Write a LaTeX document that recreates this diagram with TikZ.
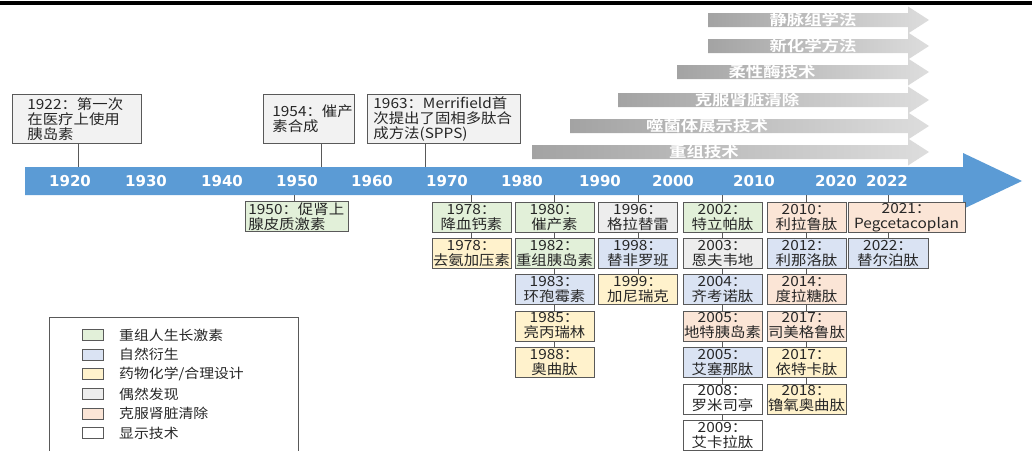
\documentclass[tikz,border=0pt]{standalone}
\usepackage{fontspec}
\newfontfamily\cjk{Noto Sans CJK SC}[FakeStretch=1.1]
\newfontfamily\cjkarrow{Noto Sans CJK SC}[FakeStretch=1.2, BoldFont={Noto Sans CJK SC Bold}]
\newfontfamily\yearf{DejaVu Sans}
\definecolor{bandblue}{HTML}{5B9BD5}
\definecolor{bc}{HTML}{595959}
\definecolor{tc}{HTML}{262626}
\definecolor{cgreen}{HTML}{E2F0D9}
\definecolor{cblue}{HTML}{DAE3F3}
\definecolor{cyellow}{HTML}{FFF2CC}
\definecolor{cgray}{HTML}{EDEDED}
\definecolor{csalmon}{HTML}{FBE5D6}
\definecolor{ctop}{HTML}{F2F2F2}
\definecolor{ga}{HTML}{A3A3A3}
\definecolor{gb}{HTML}{DDDDDD}
\tikzset{
  ev/.style={draw=bc, line width=0.8pt, minimum width=79pt, minimum height=30pt,
    inner sep=0pt, align=center, anchor=north, text=tc,
    font=\cjk\fontsize{14}{15}\selectfont},
  topbox/.style={draw=bc, line width=0.8pt, fill=ctop, anchor=north west,
    inner ysep=0pt, align=left, text=tc, font=\cjk\fontsize{14}{15}\selectfont},
  conn/.style={draw=bc, line width=0.8pt},
  yr/.style={text=white, font=\yearf\bfseries\fontsize{15}{15}\selectfont, inner sep=0pt},
  arrtext/.style={text=white, font=\cjkarrow\bfseries\fontsize{14.5}{15}\selectfont, inner sep=0pt},
  sw/.style={draw=bc, line width=0.8pt, minimum width=21pt, minimum height=11pt, inner sep=0pt},
  legtext/.style={anchor=west, inner sep=0pt, text=tc, font=\cjk\fontsize{13.5}{15}\selectfont},
}
\begin{document}
\begin{tikzpicture}[x=1pt,y=-1pt]
\useasboundingbox (0,0) rectangle (1032,450);
% top rule
\fill[black] (0,1) rectangle (1032,4.5);

% gray technology arrows
\foreach \l/\c/\t/\n [count=\i] in {708/20/813/静脉组学法, 708/46/813/新化学方法, 677/72/772/柔性酶技术, 618/100/747/克服肾脏清除, 570/126/707/噬菌体展示技术, 532/152/704/重组技术}{
  \shade[left color=ga, right color=gb] (\l,\c-7) -- (908,\c-7) -- (908,\c-13.5) -- (929,\c) -- (908,\c+13.5) -- (908,\c+7) -- (\l,\c+7) -- cycle;
  \node[arrtext] (g\i) at (\t,\c) {\n};
}

% main timeline band
\fill[bandblue] (25,167) -- (963,167) -- (963,153) -- (1022,181) -- (963,209) -- (963,195) -- (25,195) -- cycle;
\foreach \x/\y in {70/1920, 146/1930, 222/1940, 297/1950, 372/1960, 447/1970, 522/1980, 600/1990, 673/2000, 754/2010, 836/2020, 887/2022}{
  \node[yr] (y\y) at (\x,181) {\y};
}

% upper event boxes
\node[topbox, minimum width=129pt, minimum height=49pt, inner xsep=15pt, text width=99pt] (t1922) at (12,94) {1922：第一次\\在医疗上使用\\胰岛素};
\node[topbox, minimum width=91pt, minimum height=49pt, inner xsep=9pt, text width=73pt] (t1954) at (263,94) {1954：催产\\素合成};
\node[topbox, minimum width=153pt, minimum height=49pt, inner xsep=6pt, text width=141pt] (t1963) at (367,94) {1963：Merrifield首\\次提出了固相多肽合\\成方法(SPPS)};
\coordinate (u1922) at (78,167);
\coordinate (u1954) at (321,167);
\coordinate (u1963) at (425,167);
\draw[conn] (u1922 |- t1922.south) -- (u1922);
\draw[conn] (u1954 |- t1954.south) -- (u1954);
\draw[conn] (u1963 |- t1963.south) -- (u1963);

% 1950 box
\node[ev, fill=cgreen, minimum width=103pt, anchor=north west, align=left, inner xsep=3pt, text width=97pt] (e1950) at (245,201) {1950：促肾上\\腺皮质激素};
\coordinate (d1950) at (294,195);
\draw[conn] (d1950) -- (d1950 |- e1950.north);

% column A
\coordinate (bA) at (471.5,195);
\node[ev, fill=cgreen] (a1) at (471.5,202) {1978：\\降血钙素};
\node[ev, fill=cyellow] (a2) at (471.5,238) {1978：\\去氨加压素};
\draw[conn] (bA) -- (a1) (a1) -- (a2);

% column B
\coordinate (bB) at (554.5,195);
\node[ev, fill=cgreen] (b1) at (554.5,202) {1980：\\催产素};
\node[ev, fill=cgreen] (b2) at (554.5,238) {1982：\\重组胰岛素};
\node[ev, fill=cblue] (b3) at (554.5,274) {1983：\\环孢霉素};
\node[ev, fill=cyellow] (b4) at (554.5,310.5) {1985：\\亮丙瑞林};
\node[ev, fill=cyellow] (b5) at (554.5,347) {1988：\\奥曲肽};
\draw[conn] (bB) -- (b1) (b1) -- (b2) (b2) -- (b3) (b3) -- (b4) (b4) -- (b5);

% column C
\coordinate (bC) at (638,195);
\node[ev, fill=cgray] (c1) at (638,202) {1996：\\格拉替雷};
\node[ev, fill=cblue] (c2) at (638,238) {1998：\\替非罗班};
\node[ev, fill=cyellow] (c3) at (638,274) {1999：\\加尼瑞克};
\draw[conn] (bC) -- (c1) (c1) -- (c2) (c2) -- (c3);

% column D
\coordinate (bD) at (722.5,195);
\node[ev, fill=cgreen] (d1) at (722.5,202) {2002：\\特立帕肽};
\node[ev, fill=cgray] (d2) at (722.5,238) {2003：\\恩夫韦地};
\node[ev, fill=cblue] (d3) at (722.5,274) {2004：\\齐考诺肽};
\node[ev, fill=csalmon] (d4) at (722.5,310.5) {2005：\\地特胰岛素};
\node[ev, fill=cblue] (d5) at (722.5,347) {2005：\\艾塞那肽};
\node[ev, fill=white] (d6) at (722.5,383.5) {2008：\\罗米司亭};
\node[ev, fill=white] (d7) at (722.5,420) {2009：\\艾卡拉肽};
\draw[conn] (bD) -- (d1) (d1) -- (d2) (d2) -- (d3) (d3) -- (d4) (d4) -- (d5) (d5) -- (d6) (d6) -- (d7);

% column E
\coordinate (bE) at (806.5,195);
\node[ev, fill=csalmon] (e1) at (806.5,202) {2010：\\利拉鲁肽};
\node[ev, fill=cblue] (e2) at (806.5,238) {2012：\\利那洛肽};
\node[ev, fill=csalmon] (e3) at (806.5,274) {2014：\\度拉糖肽};
\node[ev, fill=csalmon] (e4) at (806.5,310.5) {2017：\\司美格鲁肽};
\node[ev, fill=cyellow] (e5) at (806.5,347) {2017：\\依特卡肽};
\node[ev, fill=cyellow] (e6) at (806.5,383.5) {2018：\\镥氧奥曲肽};
\draw[conn] (bE) -- (e1) (e1) -- (e2) (e2) -- (e3) (e3) -- (e4) (e4) -- (e5) (e5) -- (e6);

% column F
\coordinate (bF) at (888,195);
\node[ev, fill=csalmon, minimum width=117pt] (f1) at (906.5,202) {2021：\\Pegcetacoplan};
\node[ev, fill=cblue, minimum width=80pt] (f2) at (888,238) {2022：\\替尔泊肽};
\draw[conn] (bF) -- (bF |- f1.north) (f2.north |- f1.south) -- (f2.north);

% legend
\draw[draw=bc, line width=0.8pt] (49,455) -- (49,317) -- (298,317) -- (298,455);
\foreach \c/\t [count=\i] in {cgreen/{重组人生长激素}, cblue/{自然衍生}, cyellow/{药物化学/合理设计}, cgray/{偶然发现}, csalmon/{克服肾脏清除}, white/{显示技术}}{
  \node[sw, fill=\c] (s\i) at (92.5,{315.5+19.6*\i}) {};
  \node[legtext] (l\i) at (119,{315.5+19.6*\i}) {\t};
}
\end{tikzpicture}
\end{document}
